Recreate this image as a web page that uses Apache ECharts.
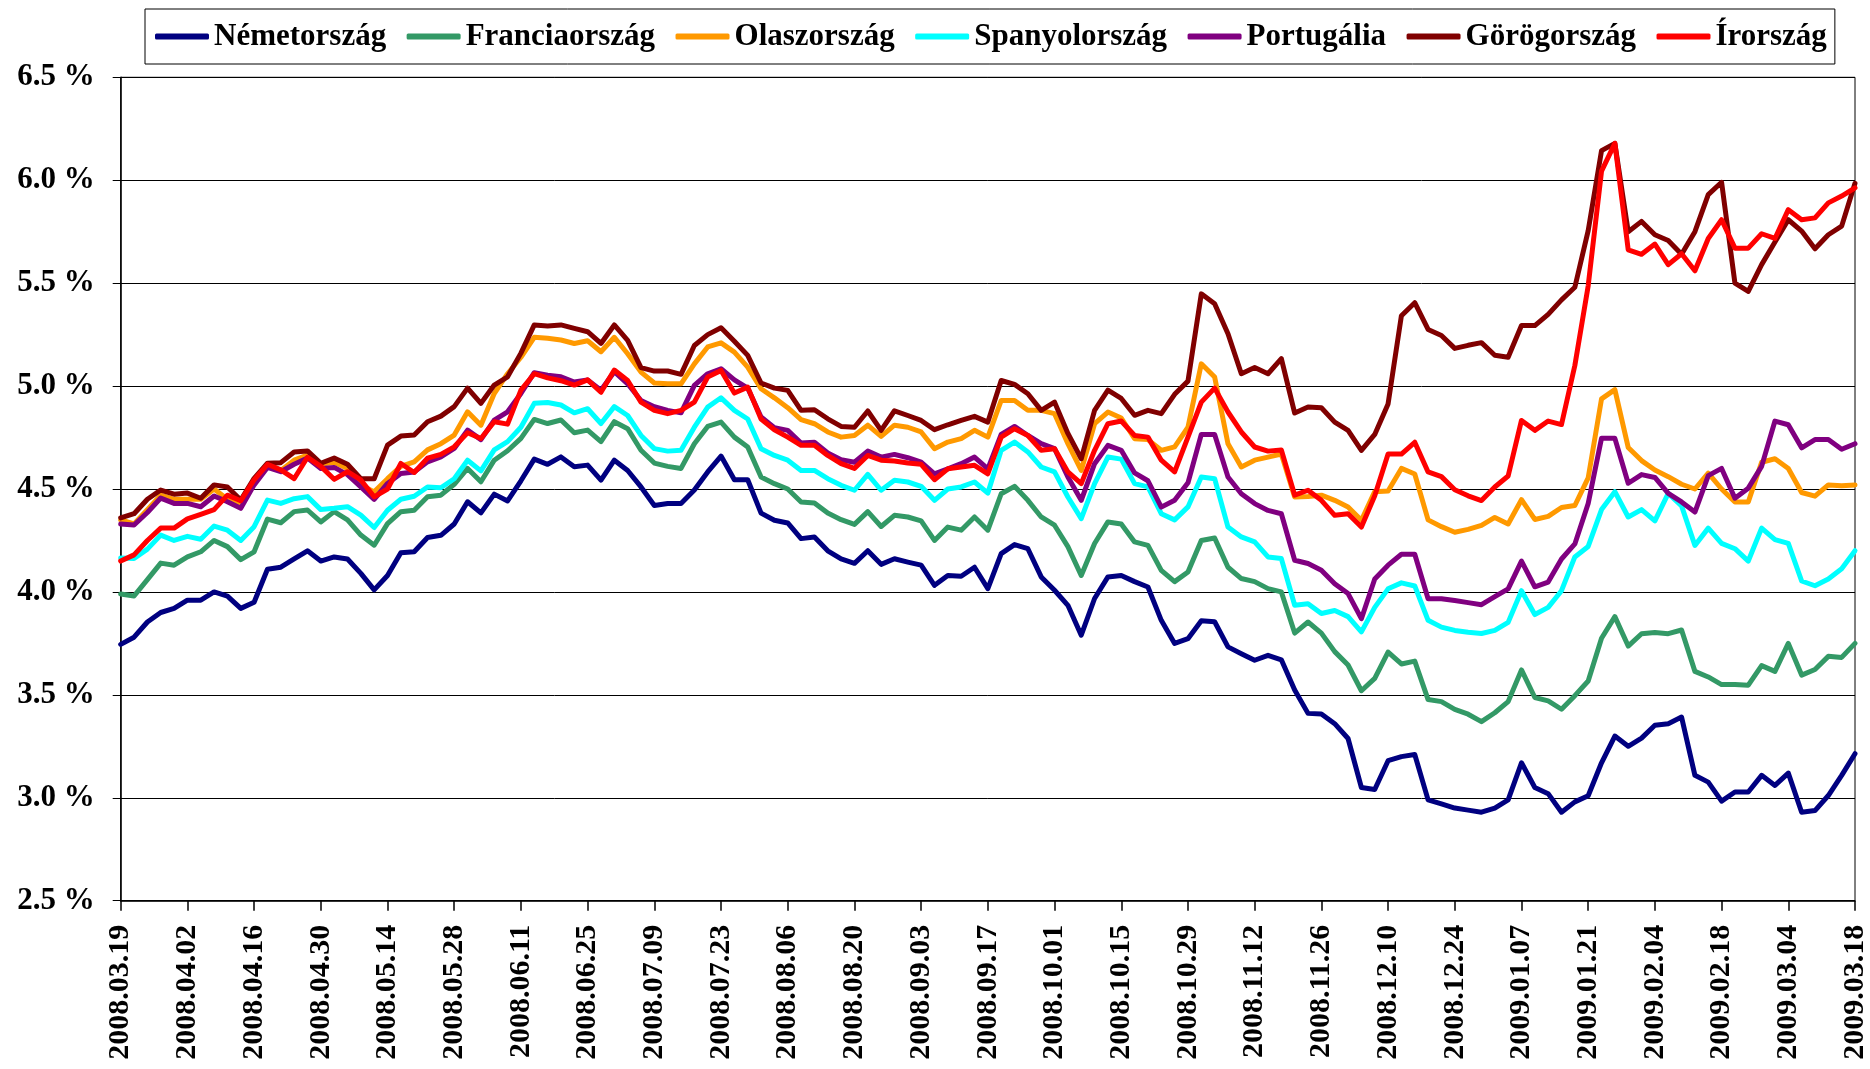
<!DOCTYPE html>
<html>
<head>
<meta charset="utf-8">
<title>10 éves állampapír-hozamok</title>
<script src="https://cdn.jsdelivr.net/npm/echarts@6/dist/echarts.min.js"></script>
<style>
  html, body { margin: 0; padding: 0; background: #fff; }
  #main { width: 1870px; height: 1069px; }
</style>
</head>
<body>
<div id="main"></div>
<script>
// business-day index of every sample (every 2nd trading day)
var dayIndex = [0, 2, 4, 6, 8, 10, 12, 14, 16, 18, 20, 22, 24, 26, 28, 30, 32, 34, 36,
  38, 40, 42, 44, 46, 48, 50, 52, 54, 56, 58, 60, 62, 64, 66, 68, 70, 72, 74,
  76, 78, 80, 82, 84, 86, 88, 90, 92, 94, 96, 98, 100, 102, 104, 106, 108, 110,
  112, 114, 116, 118, 120, 122, 124, 126, 128, 130, 132, 134, 136, 138, 140, 142, 144, 146, 148, 150,
  152, 154, 156, 158, 160, 162, 164, 166, 168, 170, 172, 174, 176, 178, 180, 182, 184, 186,
  188, 190, 192, 194, 196, 198, 200, 202, 204, 206, 208, 210, 212, 214, 216, 218, 220, 222, 224, 226, 228,
  230, 232, 234, 236, 238, 240, 242, 244, 246, 248, 250, 252, 254, 256, 258, 260];

// one tick label every 10 trading days
var tickLabels = ['2008.03.19', '2008.04.02', '2008.04.16', '2008.04.30', '2008.05.14', '2008.05.28',
  '2008.06.11', '2008.06.25', '2008.07.09', '2008.07.23', '2008.08.06', '2008.08.20', '2008.09.03',
  '2008.09.17', '2008.10.01', '2008.10.15', '2008.10.29', '2008.11.12', '2008.11.26', '2008.12.10',
  '2008.12.24', '2009.01.07', '2009.01.21', '2009.02.04', '2009.02.18', '2009.03.04', '2009.03.18'];

var seriesNames = ['Németország', 'Franciaország', 'Olaszország', 'Spanyolország', 'Portugália', 'Görögország', 'Írország'];

var nemet = [3.745, 3.78, 3.854, 3.90, 3.92, 3.96, 3.96, 4.00, 3.98, 3.92, 3.95, 4.11, 4.12, 4.16, 4.20, 4.15, 4.17, 4.16, 4.09,
  4.01, 4.08, 4.19, 4.195, 4.264, 4.275, 4.33, 4.438, 4.384, 4.475, 4.442, 4.54, 4.645, 4.62, 4.656, 4.608, 4.616, 4.543, 4.64,
  4.59, 4.51, 4.42, 4.43, 4.43, 4.495, 4.583, 4.66, 4.545, 4.545, 4.383, 4.348, 4.335, 4.259, 4.267, 4.20, 4.16, 4.139,
  4.20, 4.134, 4.161, 4.145, 4.13, 4.032, 4.08, 4.076, 4.12, 4.016, 4.186, 4.23, 4.21, 4.073, 4.008, 3.935, 3.79, 3.968, 4.073, 4.08,
  4.05, 4.024, 3.862, 3.75, 3.773, 3.86, 3.855, 3.733, 3.70, 3.668, 3.692, 3.67, 3.523, 3.41, 3.407, 3.36, 3.288, 3.05,
  3.04, 3.18, 3.20, 3.21, 2.99, 2.97, 2.95, 2.94, 2.93, 2.95, 2.99, 3.17, 3.05, 3.02, 2.93, 2.98, 3.01, 3.17, 3.30, 3.25, 3.29,
  3.352, 3.36, 3.392, 3.109, 3.076, 2.984, 3.028, 3.028, 3.109, 3.06, 3.12, 2.93, 2.938, 3.011, 3.109, 3.214];

var francia = [3.99, 3.98, 4.06, 4.14, 4.13, 4.17, 4.195, 4.25, 4.22, 4.157, 4.195, 4.354, 4.336, 4.39, 4.398, 4.34, 4.39, 4.35, 4.276,
  4.227, 4.332, 4.39, 4.397, 4.462, 4.47, 4.523, 4.60, 4.535, 4.64, 4.686, 4.746, 4.838, 4.818, 4.835, 4.773, 4.786, 4.73, 4.827,
  4.793, 4.688, 4.626, 4.61, 4.60, 4.72, 4.804, 4.825, 4.752, 4.704, 4.558, 4.526, 4.50, 4.437, 4.432, 4.383, 4.351, 4.328,
  4.39, 4.318, 4.372, 4.364, 4.345, 4.25, 4.315, 4.30, 4.364, 4.30, 4.477, 4.513, 4.445, 4.364, 4.324, 4.22, 4.08, 4.235, 4.34, 4.33,
  4.243, 4.226, 4.105, 4.05, 4.097, 4.25, 4.262, 4.12, 4.065, 4.05, 4.016, 4.0, 3.80, 3.854, 3.80, 3.71, 3.645, 3.52,
  3.58, 3.708, 3.65, 3.664, 3.477, 3.467, 3.429, 3.406, 3.37, 3.413, 3.467, 3.621, 3.487, 3.471, 3.43, 3.496, 3.567, 3.775, 3.88, 3.737, 3.797,
  3.803, 3.797, 3.815, 3.614, 3.587, 3.55, 3.55, 3.547, 3.642, 3.614, 3.75, 3.596, 3.623, 3.687, 3.682, 3.75];

var olasz = [4.35, 4.33, 4.40, 4.47, 4.45, 4.45, 4.45, 4.50, 4.45, 4.42, 4.54, 4.62, 4.59, 4.64, 4.665, 4.62, 4.63, 4.60, 4.52,
  4.486, 4.55, 4.61, 4.632, 4.69, 4.72, 4.762, 4.875, 4.81, 4.964, 5.06, 5.14, 5.237, 5.232, 5.224, 5.207, 5.22, 5.167, 5.237,
  5.157, 5.068, 5.015, 5.011, 5.011, 5.108, 5.19, 5.21, 5.165, 5.092, 4.987, 4.943, 4.895, 4.837, 4.817, 4.777, 4.752, 4.76,
  4.81, 4.756, 4.81, 4.80, 4.777, 4.696, 4.728, 4.745, 4.785, 4.752, 4.93, 4.93, 4.882, 4.882, 4.866, 4.72, 4.59, 4.817, 4.874, 4.845,
  4.744, 4.74, 4.688, 4.705, 4.80, 5.108, 5.044, 4.72, 4.607, 4.64, 4.655, 4.67, 4.461, 4.464, 4.47, 4.445, 4.413, 4.348,
  4.487, 4.49, 4.60, 4.573, 4.35, 4.317, 4.29, 4.304, 4.323, 4.362, 4.33, 4.448, 4.352, 4.367, 4.41, 4.42, 4.554, 4.938, 4.983, 4.702, 4.638,
  4.592, 4.56, 4.523, 4.50, 4.577, 4.50, 4.437, 4.437, 4.63, 4.647, 4.60, 4.483, 4.465, 4.52, 4.516, 4.52];

var spanyol = [4.165, 4.162, 4.208, 4.276, 4.25, 4.27, 4.256, 4.32, 4.30, 4.25, 4.317, 4.446, 4.43, 4.453, 4.463, 4.40, 4.406, 4.414, 4.373,
  4.313, 4.397, 4.45, 4.465, 4.51, 4.506, 4.55, 4.64, 4.588, 4.69, 4.73, 4.80, 4.916, 4.92, 4.908, 4.87, 4.89, 4.818, 4.90,
  4.857, 4.76, 4.696, 4.684, 4.688, 4.80, 4.898, 4.943, 4.882, 4.84, 4.696, 4.663, 4.64, 4.59, 4.59, 4.55, 4.518, 4.494,
  4.571, 4.494, 4.542, 4.534, 4.513, 4.445, 4.50, 4.51, 4.534, 4.48, 4.688, 4.728, 4.68, 4.607, 4.583, 4.461, 4.356, 4.526, 4.655, 4.645,
  4.526, 4.51, 4.38, 4.35, 4.413, 4.558, 4.55, 4.315, 4.267, 4.243, 4.17, 4.162, 3.935, 3.943, 3.895, 3.91, 3.88, 3.806,
  3.925, 4.015, 4.044, 4.029, 3.862, 3.829, 3.813, 3.804, 3.798, 3.813, 3.852, 4.006, 3.89, 3.925, 4.006, 4.17, 4.221, 4.40, 4.487, 4.364, 4.40,
  4.345, 4.479, 4.418, 4.226, 4.31, 4.236, 4.21, 4.15, 4.31, 4.254, 4.236, 4.053, 4.03, 4.063, 4.113, 4.20];

var portugal = [4.33, 4.325, 4.386, 4.456, 4.43, 4.43, 4.414, 4.466, 4.438, 4.406, 4.52, 4.605, 4.584, 4.62, 4.65, 4.60, 4.605, 4.57, 4.51,
  4.45, 4.527, 4.575, 4.583, 4.632, 4.656, 4.697, 4.786, 4.74, 4.835, 4.875, 4.964, 5.065, 5.053, 5.045, 5.02, 5.03, 4.98, 5.07,
  5.011, 4.93, 4.90, 4.882, 4.87, 5.003, 5.06, 5.084, 5.03, 4.99, 4.85, 4.798, 4.785, 4.723, 4.727, 4.675, 4.642, 4.63,
  4.684, 4.655, 4.668, 4.652, 4.63, 4.574, 4.598, 4.623, 4.655, 4.598, 4.765, 4.804, 4.76, 4.72, 4.696, 4.558, 4.445, 4.623, 4.712, 4.688,
  4.578, 4.54, 4.412, 4.445, 4.53, 4.765, 4.765, 4.558, 4.477, 4.429, 4.396, 4.38, 4.154, 4.138, 4.105, 4.04, 3.992, 3.87,
  4.063, 4.13, 4.183, 4.183, 3.967, 3.967, 3.958, 3.948, 3.938, 3.977, 4.015, 4.15, 4.025, 4.048, 4.16, 4.233, 4.43, 4.746, 4.746, 4.528, 4.57,
  4.556, 4.479, 4.437, 4.388, 4.565, 4.60, 4.455, 4.504, 4.61, 4.83, 4.812, 4.70, 4.74, 4.74, 4.693, 4.72];

var gorog = [4.36, 4.38, 4.45, 4.495, 4.475, 4.48, 4.455, 4.52, 4.51, 4.446, 4.552, 4.625, 4.628, 4.68, 4.685, 4.625, 4.65, 4.62, 4.55,
  4.55, 4.713, 4.757, 4.762, 4.827, 4.854, 4.90, 4.99, 4.916, 5.005, 5.045, 5.16, 5.297, 5.292, 5.297, 5.28, 5.264, 5.207, 5.297,
  5.222, 5.09, 5.073, 5.073, 5.057, 5.197, 5.25, 5.283, 5.218, 5.149, 5.015, 4.99, 4.979, 4.882, 4.885, 4.841, 4.804, 4.80,
  4.879, 4.785, 4.88, 4.857, 4.833, 4.788, 4.812, 4.833, 4.853, 4.825, 5.027, 5.008, 4.963, 4.882, 4.922, 4.77, 4.647, 4.882, 4.98, 4.94,
  4.858, 4.882, 4.866, 4.96, 5.024, 5.448, 5.40, 5.254, 5.06, 5.09, 5.06, 5.133, 4.869, 4.898, 4.895, 4.825, 4.785, 4.688,
  4.765, 4.913, 5.342, 5.405, 5.275, 5.246, 5.183, 5.198, 5.211, 5.15, 5.14, 5.294, 5.294, 5.348, 5.419, 5.48, 5.755, 6.144, 6.179, 5.75, 5.80,
  5.735, 5.707, 5.64, 5.75, 5.93, 5.99, 5.50, 5.46, 5.59, 5.70, 5.808, 5.753, 5.667, 5.735, 5.777, 5.985];

var ir = [4.15, 4.18, 4.25, 4.31, 4.31, 4.355, 4.377, 4.40, 4.47, 4.443, 4.544, 4.62, 4.593, 4.55, 4.654, 4.61, 4.547, 4.584, 4.544,
  4.462, 4.50, 4.624, 4.58, 4.65, 4.668, 4.705, 4.773, 4.745, 4.827, 4.815, 4.98, 5.06, 5.04, 5.026, 5.005, 5.03, 4.97, 5.078,
  5.027, 4.922, 4.882, 4.866, 4.882, 4.922, 5.044, 5.076, 4.966, 4.995, 4.84, 4.788, 4.752, 4.712, 4.712, 4.663, 4.623, 4.60,
  4.663, 4.64, 4.636, 4.626, 4.62, 4.545, 4.598, 4.607, 4.615, 4.574, 4.752, 4.793, 4.76, 4.688, 4.696, 4.583, 4.526, 4.688, 4.817, 4.83,
  4.76, 4.752, 4.64, 4.583, 4.752, 4.922, 4.99, 4.874, 4.777, 4.704, 4.684, 4.69, 4.47, 4.494, 4.445, 4.372, 4.38, 4.315,
  4.467, 4.67, 4.67, 4.727, 4.583, 4.56, 4.496, 4.467, 4.444, 4.51, 4.563, 4.833, 4.785, 4.83, 4.813, 5.10, 5.487, 6.044, 6.179, 5.662, 5.64,
  5.69, 5.59, 5.643, 5.56, 5.717, 5.808, 5.67, 5.67, 5.74, 5.717, 5.857, 5.808, 5.817, 5.89, 5.923, 5.963];

var colors = ['#000080', '#339966', '#FF9900', '#00FFFF', '#800080', '#800000', '#FF0000'];
var allData = [nemet, francia, olasz, spanyol, portugal, gorog, ir];

var chart = echarts.init(document.getElementById('main'), null, { renderer: 'canvas' });

var font = 'Liberation Serif';

var series = seriesNames.map(function (name, s) {
  return {
    name: name,
    type: 'line',
    showSymbol: false,
    symbol: 'none',
    animation: false,
    lineStyle: { width: 5, color: colors[s], join: 'round', cap: 'round' },
    itemStyle: { color: colors[s] },
    data: dayIndex.map(function (d, k) { return [d, allData[s][k]]; })
  };
});

var option = {
  backgroundColor: '#fff',
  animation: false,
  color: colors,
  legend: {
    left: 145,
    top: 9,
    padding: [12, 8, 12, 10],
    borderColor: '#000',
    borderWidth: 1,
    icon: 'roundRect',
    itemWidth: 54,
    itemHeight: 6,
    itemGap: 20.5,
    textStyle: { fontFamily: font, fontWeight: 'bold', fontSize: 31, color: '#000', padding: [0, 0, 0, 0] },
    data: seriesNames
  },
  grid: {
    left: 120.7,
    right: 14,
    top: 77.3,
    bottom: 168.3,
    show: true,
    borderColor: '#000',
    borderWidth: 1,
    containLabel: false
  },
  xAxis: {
    type: 'value',
    min: 0,
    max: 260,
    interval: 10,
    axisLine: { lineStyle: { color: '#000', width: 1.5 } },
    axisTick: { show: true, length: 10, lineStyle: { color: '#000', width: 1.5 } },
    splitLine: { show: false },
    axisLabel: {
      rotate: 90,
      margin: 24,
      fontFamily: font,
      fontWeight: 'bold',
      fontSize: 30,
      color: '#000',
      formatter: function (v) { return tickLabels[Math.round(v / 10)] || ''; }
    }
  },
  yAxis: {
    type: 'value',
    min: 2.5,
    max: 6.5,
    interval: 0.5,
    axisLine: { show: true, lineStyle: { color: '#000', width: 1.5 } },
    axisTick: { show: true, length: 8, lineStyle: { color: '#000', width: 1 } },
    splitLine: { show: true, lineStyle: { color: '#000', width: 1 } },
    axisLabel: {
      margin: 26,
      fontFamily: font,
      fontWeight: 'bold',
      fontSize: 31,
      color: '#000',
      formatter: function (v) { return v.toFixed(1) + ' %'; }
    }
  },
  series: series
};

chart.setOption(option);
</script>
</body>
</html>
